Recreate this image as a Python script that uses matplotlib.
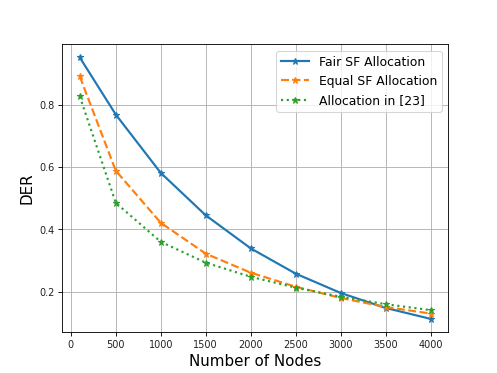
import matplotlib
matplotlib.use("Agg")
import matplotlib.pyplot as plt

nodes = [100, 500, 1000, 1500, 2000, 2500, 3000, 3500, 4000]
fair_sf = [0.951, 0.768, 0.581, 0.445, 0.339, 0.258, 0.196, 0.148, 0.113]
equal_sf = [0.890, 0.588, 0.421, 0.322, 0.261, 0.216, 0.180, 0.151, 0.130]
alloc_23 = [0.826, 0.485, 0.360, 0.293, 0.248, 0.213, 0.184, 0.160, 0.141]
xticks = [0, 500, 1000, 1500, 2000, 2500, 3000, 3500, 4000]

fig, ax = plt.subplots(figsize=(6.4, 4.8), dpi=77.8)
ax.plot(nodes, fair_sf, '-', marker='*', color='#1f77b4', lw=2, label='Fair SF Allocation')
ax.plot(nodes, equal_sf, '--', marker='*', color='#ff7f0e', lw=2, label='Equal SF Allocation')
ax.plot(nodes, alloc_23, ':', marker='*', color='#2ca02c', lw=2, label='Allocation in [23]')
ax.set_xticks(xticks)
ax.tick_params(labelsize=9, labelcolor='#222222')
ax.set_yticks([0.2, 0.4, 0.6, 0.8])
ax.grid(True)
ax.set_xlabel('Number of Nodes', fontsize=14)
ax.set_ylabel('DER', fontsize=14)
ax.legend(loc='upper right', fontsize=11.5, handlelength=2.2)
fig.savefig('out.png', dpi=77.8)
